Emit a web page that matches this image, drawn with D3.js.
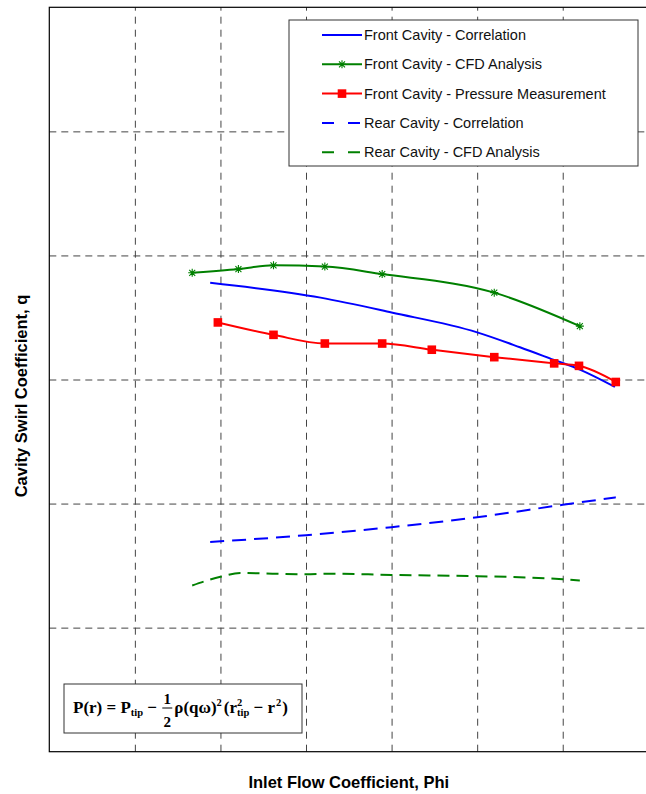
<!DOCTYPE html>
<html>
<head>
<meta charset="utf-8">
<script src="https://cdn.jsdelivr.net/npm/d3@7"></script>
<style>
  html, body { margin: 0; padding: 0; background: #fff; }
  svg { display: block; }
</style>
</head>
<body>
<svg id="chart" width="646" height="794"></svg>
<script>
// ---- data (grid units) ----
const xTicks = [1, 2, 3, 4, 5, 6];
const yTicks = [1, 2, 3, 4, 5];

const frontCorrX = [1.88, 3.17, 4.00, 5.00, 5.50, 5.89, 6.20, 6.61];
const frontCorrY = [3.78, 3.66, 3.54, 3.38, 3.26, 3.16, 3.08, 2.94];

const frontCfdX = [1.67, 2.21, 2.62, 3.22, 3.89, 5.20, 6.20];
const frontCfdY = [3.86, 3.89, 3.92, 3.91, 3.85, 3.70, 3.43];

const frontPressX = [1.97, 2.62, 3.22, 3.89, 4.47, 5.20, 5.90, 6.19, 6.62];
const frontPressY = [3.46, 3.36, 3.29, 3.29, 3.24, 3.18, 3.13, 3.11, 2.98];

const rearCorrX = [1.88, 3.00, 4.00, 5.00, 6.00, 6.62];
const rearCorrY = [1.69, 1.745, 1.81, 1.89, 1.99, 2.05];

const rearCfdX = [1.67, 2.00, 2.23, 3.00, 3.28, 4.00, 5.00, 6.00, 6.20];
const rearCfdY = [1.34, 1.41, 1.44, 1.43, 1.435, 1.425, 1.415, 1.39, 1.38];

const legendLabels = [
  "Front Cavity - Correlation",
  "Front Cavity - CFD Analysis",
  "Front Cavity - Pressure Measurement",
  "Rear Cavity - Correlation",
  "Rear Cavity - CFD Analysis"
];
const xLabel = "Inlet Flow Coefficient, Phi";
const yLabel = "Cavity Swirl Coefficient, q";

// ---- layout ----
const svg = d3.select("#chart");
const L = 49.3, R = 648.3, T = 7.3, B = 751.7;
const x = d3.scaleLinear().domain([0, 7]).range([L, R]);
const y = d3.scaleLinear().domain([0, 6]).range([B, T]);

// grid
const gridColor = "#444";
svg.append("g").attr("transform", `translate(0,${B})`)
  .call(d3.axisBottom(x).tickValues(xTicks).tickSize(-(B - T)).tickFormat(""))
  .call(g => g.select(".domain").remove())
  .call(g => g.selectAll("line").attr("stroke", gridColor).attr("stroke-dasharray", "7,6"));
svg.append("g").attr("transform", `translate(${L},0)`)
  .call(d3.axisLeft(y).tickValues(yTicks).tickSize(-(R - L)).tickFormat(""))
  .call(g => g.select(".domain").remove())
  .call(g => g.selectAll("line").attr("stroke", gridColor).attr("stroke-dasharray", "7,5"));

// box
svg.append("rect").attr("x", L).attr("y", T).attr("width", R - L).attr("height", B - T)
  .attr("fill", "none").attr("stroke", "#000").attr("stroke-width", 1.2);

// series
const zip = (xs, ys) => xs.map((v, i) => [v, ys[i]]);
const line = d3.line().x(d => x(d[0])).y(d => y(d[1])).curve(d3.curveMonotoneX);

const series = [
  { data: zip(frontCorrX, frontCorrY), color: "#0000ff", dash: null, marker: null },
  { data: zip(frontCfdX, frontCfdY), color: "#008000", dash: null, marker: "star" },
  { data: zip(frontPressX, frontPressY), color: "#ff0000", dash: null, marker: "square" },
  { data: zip(rearCorrX, rearCorrY), color: "#0000ff", dash: "14,8", marker: null },
  { data: zip(rearCfdX, rearCfdY), color: "#008000", dash: "12,7", marker: null }
];

const starPath = s => {
  const h = s / 2, d = h * 0.75;
  return `M${-h},0L${h},0M0,${-h}L0,${h}M${-d},${-d}L${d},${d}M${-d},${d}L${d},${-d}`;
};
function drawMarker(g, type, color, cx, cy) {
  if (type === "star") {
    g.append("path").attr("d", starPath(8)).attr("transform", `translate(${cx},${cy})`)
      .attr("stroke", color).attr("stroke-width", 1.1).attr("fill", "none");
  } else if (type === "square") {
    g.append("rect").attr("x", cx - 4.3).attr("y", cy - 4.3).attr("width", 8.6).attr("height", 8.6)
      .attr("fill", color);
  }
}

series.forEach(s => {
  svg.append("path").datum(s.data).attr("d", line)
    .attr("fill", "none").attr("stroke", s.color).attr("stroke-width", 2)
    .attr("stroke-dasharray", s.dash);
  if (s.marker) {
    const g = svg.append("g");
    s.data.forEach(d => drawMarker(g, s.marker, s.color, x(d[0]), y(d[1])));
  }
});

// legend
const lg = svg.append("g");
lg.append("rect").attr("x", 289).attr("y", 20).attr("width", 349).attr("height", 146)
  .attr("fill", "#fff").attr("stroke", "#333").attr("stroke-width", 1);
legendLabels.forEach((lab, i) => {
  const yy = 35 + i * 29.3;
  const s = series[i];
  lg.append("line").attr("x1", 322).attr("x2", 362).attr("y1", yy).attr("y2", yy)
    .attr("stroke", s.color).attr("stroke-width", 2)
    .attr("stroke-dasharray", s.dash ? "12,14" : null);
  if (s.marker) drawMarker(lg, s.marker, s.color, 342, yy);
  lg.append("text").attr("x", 364).attr("y", yy + 5).text(lab)
    .attr("font-family", "Liberation Sans, Arial, sans-serif").attr("font-size", 14.5)
    .attr("fill", "#111");
});

// axis labels
svg.append("text").attr("x", (L + R) / 2).attr("y", 788).attr("text-anchor", "middle")
  .attr("font-family", "Liberation Sans, Arial, sans-serif").attr("font-weight", "bold")
  .attr("font-size", 16.5).text(xLabel);
svg.append("text").attr("transform", "translate(27,396) rotate(-90)").attr("text-anchor", "middle")
  .attr("font-family", "Liberation Sans, Arial, sans-serif").attr("font-weight", "bold")
  .attr("font-size", 16.5).text(yLabel);

// equation box
const eq = svg.append("g");
eq.append("rect").attr("x", 64).attr("y", 684).attr("width", 238).attr("height", 49)
  .attr("fill", "#fff").attr("stroke", "#333").attr("stroke-width", 1);
const fs = 17, small = 10.5, base = 713;
const pieces = [
  { t: "P(r) = P", size: fs, dy: 0 },
  { t: "tip", size: small, dy: 3 },
  { t: " \u2212 ", size: fs, dy: 0 },
  { frac: true },
  { t: "\u03C1(q\u03C9)", size: fs, dy: 0 },
  { t: "2", size: small, dy: -7 },
  { t: "(r", size: fs, dy: 0, pad: 2 },
  { t: "2", size: small, dy: -7, stackSub: "tip" },
  { t: " \u2212 r", size: fs, dy: 0 },
  { t: "2", size: small, dy: -7, pad: 1 },
  { t: ")", size: fs, dy: 0, pad: 1 }
];
let cx = 73;
const ff = "Liberation Serif, Times New Roman, serif";
pieces.forEach(p => {
  if (p.frac) {
    const w = 12;
    eq.append("text").attr("x", cx + w / 2).attr("y", 704).attr("text-anchor", "middle")
      .attr("font-family", ff).attr("font-weight", "bold").attr("font-size", 15).text("1");
    eq.append("line").attr("x1", cx + 1).attr("x2", cx + w - 1).attr("y1", 708).attr("y2", 708)
      .attr("stroke", "#000").attr("stroke-width", 1);
    eq.append("text").attr("x", cx + w / 2).attr("y", 727).attr("text-anchor", "middle")
      .attr("font-family", ff).attr("font-weight", "bold").attr("font-size", 15).text("2");
    cx += w + 1;
    return;
  }
  cx += p.pad || 0;
  const t = eq.append("text").attr("x", cx).attr("y", base + p.dy)
    .attr("font-family", ff).attr("font-weight", "bold").attr("font-size", p.size)
    .attr("xml:space", "preserve").style("white-space", "pre").text(p.t);
  let w = t.node().getComputedTextLength();
  if (p.stackSub) {
    const t2 = eq.append("text").attr("x", cx).attr("y", base + 3)
      .attr("font-family", ff).attr("font-weight", "bold").attr("font-size", p.size)
      .text(p.stackSub);
    w = Math.max(w, t2.node().getComputedTextLength());
  }
  cx += w;
});
</script>
</body>
</html>
